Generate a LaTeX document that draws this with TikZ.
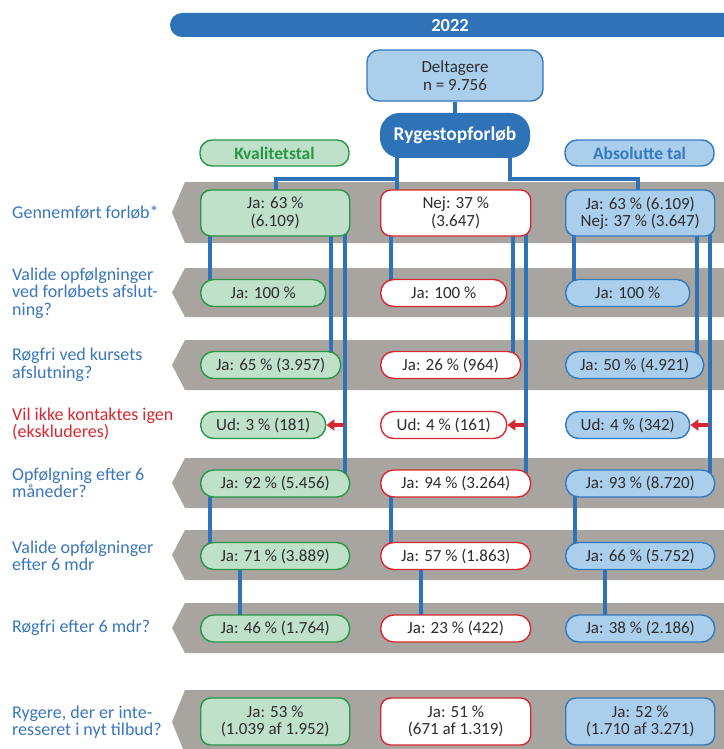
\documentclass[tikz,border=0pt]{standalone}
\usepackage{fontspec}
\setmainfont{Carlito}
\usetikzlibrary{positioning, arrows.meta, backgrounds}

\definecolor{moerkblaa}{RGB}{46,114,183}
\definecolor{lysblaa}{RGB}{170,206,236}
\definecolor{kantblaa}{RGB}{52,120,190}
\definecolor{lysgroen}{RGB}{191,224,201}
\definecolor{kantgroen}{RGB}{40,150,70}
\definecolor{roed}{RGB}{214,40,48}
\definecolor{baandgraa}{RGB}{168,164,159}
\definecolor{etiketblaa}{RGB}{58,118,190}
\definecolor{tekstgraa}{RGB}{45,45,45}

\begin{document}
\begin{tikzpicture}[x=1pt, y=-1pt,
    boks/.style={draw, line width=1.4pt, rounded corners=#1, text=tekstgraa, align=center,
        minimum height=27pt, inner sep=1pt, anchor=west, font=\fontsize{17}{17.5}\selectfont},
    kval/.style={boks=#1, draw=kantgroen, fill=lysgroen},
    nej/.style={boks=#1, draw=roed, fill=white},
    absol/.style={boks=#1, draw=kantblaa, fill=lysblaa},
    hoved/.style={draw, line width=1.4pt, rounded corners=12pt, minimum width=149pt,
        minimum height=26pt, inner sep=1pt, font=\fontsize{17.5}{17.5}\selectfont\bfseries},
    raekke/.style={anchor=west, align=left, text=etiketblaa, inner sep=0pt,
        font=\fontsize{18}{17.5}\selectfont},
    baand/.style={fill=baandgraa},
    forbind/.style={draw=moerkblaa, line width=4pt},
    udpil/.style={draw=roed, line width=3.5pt, -{Triangle[length=8pt, width=11pt]}}]

\useasboundingbox (0,0) rectangle (723,749);

% aarstal
\fill[moerkblaa, rounded corners=12pt] (170,13) rectangle (760,37);
\node[text=white, font=\fontsize{18.5}{18.5}\selectfont\bfseries] (aar) at (450,25) {2022};

% top
\node[draw=kantblaa, fill=lysblaa, line width=1.4pt, rounded corners=12pt, align=center,
    minimum width=176pt, minimum height=51pt, text=tekstgraa,
    font=\fontsize{17}{18}\selectfont] (delt) at (455,75.5) {Deltagere\\n = 9.756};
\node[fill=moerkblaa, rounded corners=20pt, minimum width=150pt, minimum height=45pt,
    text=white, font=\fontsize{19.5}{19.5}\selectfont\bfseries, below=11pt of delt] (rygestop) {Rygestopforløb};
\node[hoved, draw=kantgroen, fill=lysgroen, text=kantgroen] (kvalitet) at (274.5,153) {Kvalitetstal};
\node[hoved, draw=kantblaa, fill=lysblaa, text=kantblaa] (absolut) at (639.5,153) {Absolutte tal};

% raekker
\node[raekke] (r1) at (12,212) {Gennemført forløb*};
\node[raekke] (r2) at (12,293) {Valide opfølgninger\\ved forløbets afslut-\\ning?};
\node[raekke] (r3) at (12,365) {Røgfri ved kursets\\afslutning?};
\node[raekke, text=roed] (r4) at (12,424) {Vil ikke kontaktes igen\\(ekskluderes)};
\node[raekke] (r5) at (12,483) {Opfølgning efter 6\\måneder?};
\node[raekke] (r6) at (12,556) {Valide opfølgninger\\efter 6 mdr};
\node[raekke] (r7) at (12,628) {Røgfri efter 6 mdr?};
\node[raekke] (r8) at (12,722) {Rygere, der er inte-\\resseret i nyt tilbud?};

% kvalitetstal
\node[kval=10pt, minimum width=149pt, minimum height=46pt] (k1) at (200,213) {Ja: 63 \%\\(6.109)};
\node[kval=13pt, minimum width=125pt] (k2) at (200,293) {Ja: 100 \%};
\node[kval=13pt, minimum width=140pt] (k3) at (200,365) {Ja: 65 \% (3.957)};
\node[kval=13pt, minimum width=125pt] (k4) at (200,425) {Ud: 3 \% (181)};
\node[kval=13pt, minimum width=149pt] (k5) at (200,483.5) {Ja: 92 \% (5.456)};
\node[kval=13pt, minimum width=149pt] (k6) at (200,556) {Ja: 71 \% (3.889)};
\node[kval=13pt, minimum width=149pt] (k7) at (200,628.5) {Ja: 46 \% (1.764)};
\node[kval=10pt, minimum width=149pt, minimum height=47pt] (k8) at (200,721.5) {Ja: 53 \%\\(1.039 af 1.952)};

% nej
\node[nej=10pt, minimum width=150pt, minimum height=46pt] (n1) at (380,213) {Nej: 37 \%\\(3.647)};
\node[nej=13pt, minimum width=126pt] (n2) at (380,293) {Ja: 100 \%};
\node[nej=13pt, minimum width=140pt] (n3) at (380,365) {Ja: 26 \% (964)};
\node[nej=13pt, minimum width=126pt] (n4) at (380,425) {Ud: 4 \% (161)};
\node[nej=13pt, minimum width=150pt] (n5) at (380,483.5) {Ja: 94 \% (3.264)};
\node[nej=13pt, minimum width=150pt] (n6) at (380,556) {Ja: 57 \% (1.863)};
\node[nej=13pt, minimum width=150pt] (n7) at (380,628.5) {Ja: 23 \% (422)};
\node[nej=10pt, minimum width=150pt, minimum height=47pt] (n8) at (380,721.5) {Ja: 51 \%\\(671 af 1.319)};

% absolutte tal
\node[absol=10pt, minimum width=149pt, minimum height=46pt] (a1) at (565,213) {Ja: 63 \% (6.109)\\Nej: 37 \% (3.647)};
\node[absol=13pt, minimum width=124pt] (a2) at (565,293) {Ja: 100 \%};
\node[absol=13pt, minimum width=138pt] (a3) at (565,365) {Ja: 50 \% (4.921)};
\node[absol=13pt, minimum width=124pt] (a4) at (565,425) {Ud: 4 \% (342)};
\node[absol=13pt, minimum width=149pt] (a5) at (565,483.5) {Ja: 93 \% (8.720)};
\node[absol=13pt, minimum width=149pt] (a6) at (565,556) {Ja: 66 \% (5.752)};
\node[absol=13pt, minimum width=149pt] (a7) at (565,628.5) {Ja: 38 \% (2.186)};
\node[absol=10pt, minimum width=149pt, minimum height=47pt] (a8) at (565,721.5) {Ja: 52 \%\\(1.710 af 3.271)};

\coordinate (delV) at (397,179);
\coordinate (delH) at (510,179);

\begin{scope}[on background layer]
% graa baand
\fill[baand] (185,182) -- (172,212.5) -- (185,243) -- (760,243) -- (760,182) -- cycle;
\fill[baand] (185,268) -- (172,292.5) -- (185,317) -- (760,317) -- (760,268) -- cycle;
\fill[baand] (185,340) -- (172,365) -- (185,390) -- (760,390) -- (760,340) -- cycle;
\fill[baand] (185,458) -- (172,483) -- (185,508) -- (760,508) -- (760,458) -- cycle;
\fill[baand] (185,530) -- (172,555) -- (185,580) -- (760,580) -- (760,530) -- cycle;
\fill[baand] (185,603) -- (172,628) -- (185,653) -- (760,653) -- (760,603) -- cycle;
\fill[baand] (185,690) -- (172,722) -- (185,754) -- (760,754) -- (760,690) -- cycle;

% forbindelser
\draw[forbind] (delt) -- (rygestop);
\draw[forbind] (rygestop.center -| delV) -- (delV) -| (k1.center -| 276,0);
\draw[forbind] (delV) -- (n1.center -| delV);
\draw[forbind] (rygestop.center -| delH) -- (delH) -| (a1.center -| 638,0);

\draw[forbind] (k1.center -| 210,0) -- (k2.center -| 210,0);
\draw[forbind] (k1.center -| 331,0) -- (k3.center -| 331,0);
\draw[forbind] (k1.center -| 345,0) -- (k5.center -| 345,0);
\draw[forbind] (k5.center -| 210,0) -- (k6.center -| 210,0);
\draw[forbind] (k6.center -| 240,0) -- (k7.center -| 240,0);

\draw[forbind] (n1.center -| 391,0) -- (n2.center -| 391,0);
\draw[forbind] (n1.center -| 513,0) -- (n3.center -| 513,0);
\draw[forbind] (n1.center -| 526,0) -- (n5.center -| 526,0);
\draw[forbind] (n5.center -| 391,0) -- (n6.center -| 391,0);
\draw[forbind] (n6.center -| 421,0) -- (n7.center -| 421,0);

\draw[forbind] (a1.center -| 574,0) -- (a2.center -| 574,0);
\draw[forbind] (a1.center -| 697,0) -- (a3.center -| 697,0);
\draw[forbind] (a1.center -| 710,0) -- (a5.center -| 710,0);
\draw[forbind] (a5.center -| 575,0) -- (a6.center -| 575,0);
\draw[forbind] (a6.center -| 605,0) -- (a7.center -| 605,0);

% ud-pile
\draw[udpil] (k4.east -| 344,0) -- (k4.east);
\draw[udpil] (n4.east -| 525,0) -- (n4.east);
\draw[udpil] (a4.east -| 709,0) -- (a4.east);
\end{scope}
\end{tikzpicture}
\end{document}
